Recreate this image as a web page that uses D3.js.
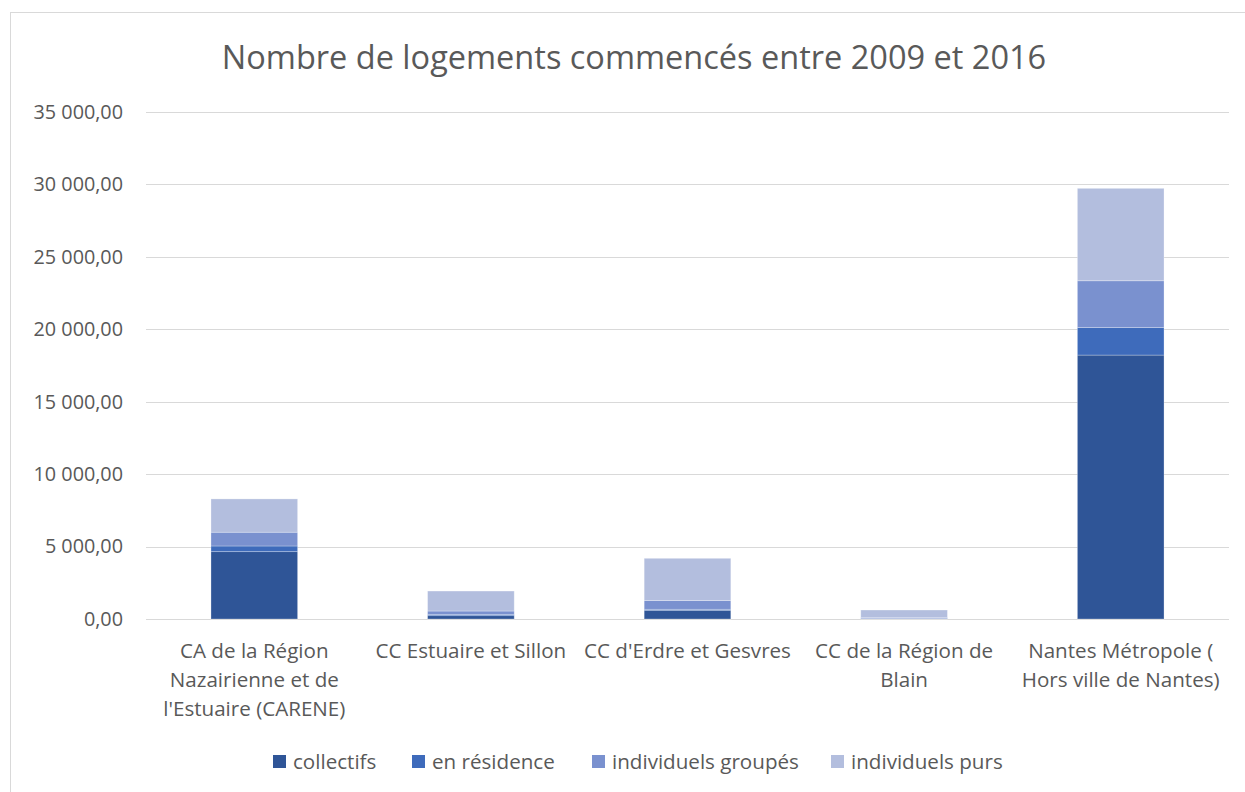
<!DOCTYPE html>
<html><head><meta charset="utf-8">
<script src="https://cdn.jsdelivr.net/npm/d3@7"></script>
<style>body{margin:0;background:#fff}svg{display:block}text{font-family:"Open Sans",sans-serif;fill:#595959}</style>
</head><body><svg id="c" width="1245" height="792"></svg>
<script>
const categories = [
  ["CA de la Région","Nazairienne et de","l'Estuaire (CARENE)"],
  ["CC Estuaire et Sillon"],
  ["CC d'Erdre et Gesvres"],
  ["CC de la Région de","Blain"],
  ["Nantes Métropole (","Hors ville de Nantes)"]
];
const seriesNames = ["collectifs","en résidence","individuels groupés","individuels purs"];
const collectifs = [4650, 230, 600, 20, 18220];
const enResidence = [390, 90, 70, 10, 1910];
const individuelsGroupes = [950, 230, 600, 80, 3220];
const individuelsPurs = [2300, 1380, 2920, 510, 6380];
const colors = ["#2F5597","#3E6BBB","#7A91CF","#B3BEDE"];
const yTicks = [0,5000,10000,15000,20000,25000,30000,35000];
const title = "Nombre de logements commencés entre 2009 et 2016";

(function(){
const FONT = "'Open Sans',sans-serif";
const svg = d3.select("#c");
svg.append("rect").attr("x",10.5).attr("y",12.5).attr("width",1240).attr("height",790)
  .attr("fill","#fff").attr("stroke","#d9d9d9");

const pL=146, pR=1229, pT=112, pB=619;
const x = d3.scaleBand().domain(d3.range(categories.length)).range([pL,pR]).paddingInner(0.6).paddingOuter(0.3);
const y = d3.scaleLinear().domain([0,35000]).range([pB,pT]);
const fr = d3.formatLocale({decimal:",",thousands:"\u00a0",grouping:[3],currency:["","€"]});
const fmt = fr.format(",.2f");

svg.append("g").selectAll("line").data(yTicks).join("line")
  .attr("x1",pL).attr("x2",pR).attr("y1",d=>Math.round(y(d))+0.5).attr("y2",d=>Math.round(y(d))+0.5)
  .attr("stroke","#d9d9d9").attr("stroke-width",1);

const yAxis = d3.axisLeft(y).tickValues(yTicks).tickFormat(fmt).tickSize(0).tickPadding(0);
const ga = svg.append("g").attr("transform",`translate(123,0)`).call(yAxis);
ga.select(".domain").remove();
ga.selectAll("text").style("font-size","19.8px").attr("fill","#595959").style("font-family",FONT);

const table = categories.map((c,i)=>({i, s0:collectifs[i], s1:enResidence[i], s2:individuelsGroupes[i], s3:individuelsPurs[i]}));
const layers = d3.stack().keys(["s0","s1","s2","s3"])(table);
svg.append("g").selectAll("g").data(layers).join("g").attr("fill",(d,i)=>colors[i])
  .selectAll("rect").data(d=>d).join("rect")
  .attr("x",d=>x(d.data.i)).attr("width",x.bandwidth())
  .attr("y",d=>y(d[1])).attr("height",d=>y(d[0])-y(d[1]))
  .attr("stroke","#ffffff").attr("stroke-opacity",0.35).attr("stroke-width",0.8);

const xl = svg.append("g");
categories.forEach((lines,i)=>{
  const cx = x(i)+x.bandwidth()/2;
  const t = xl.append("text").attr("x",cx).attr("y",658).attr("text-anchor","middle").style("font-size","20.6px");
  lines.forEach((l,j)=>t.append("tspan").attr("x",cx).attr("dy",j?29:0).text(l));
});

svg.append("text").attr("x",634).attr("y",69).attr("text-anchor","middle").style("font-size","32.5px").text(title);

const legX = [273, 412, 592, 831];
const lg = svg.append("g");
seriesNames.forEach((n,i)=>{
  lg.append("rect").attr("x",legX[i]).attr("y",755).attr("width",13).attr("height",13).attr("fill",colors[i]);
  lg.append("text").attr("x",legX[i]+20).attr("y",769).style("font-size","20.6px").text(n);
});
})();
</script></body></html>
